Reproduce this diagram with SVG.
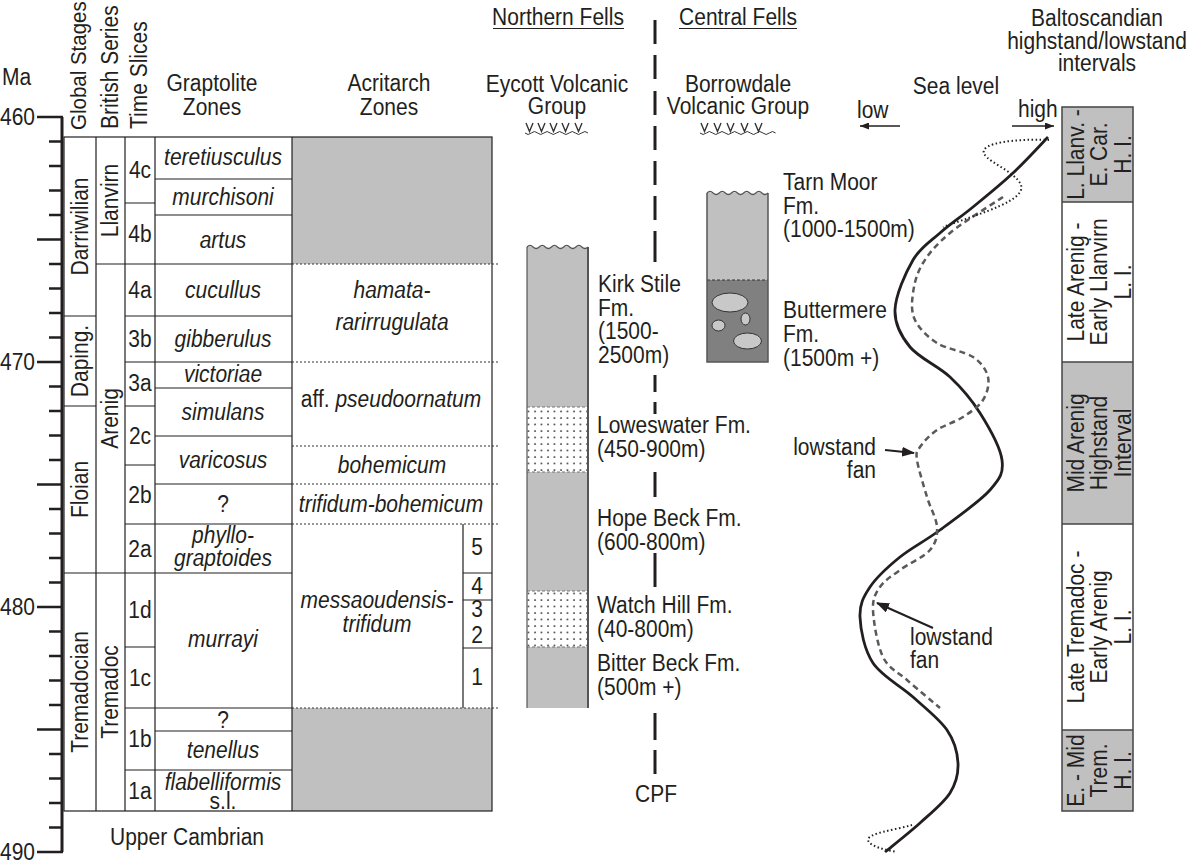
<svg xmlns="http://www.w3.org/2000/svg" width="1187" height="863" viewBox="0 0 1187 863">
<defs>
<style>
.t{font-family:"Liberation Sans",Arial,Helvetica,sans-serif;font-size:21px;fill:#231f20}
.i{font-style:italic}
.m{text-anchor:middle}
.e{text-anchor:end}
.ln{stroke:#231f20;stroke-width:1.2;fill:none}
.dt{stroke:#333;stroke-width:1;stroke-dasharray:2 2;fill:none}
.gr{fill:#c0c0c0}
.cb{stroke:#555;stroke-width:1.5;fill:none}
.sb{stroke:#777;stroke-width:1;stroke-dasharray:3 2;fill:none}
.vv{stroke:#333;stroke-width:1.4;fill:none}
.wv{stroke:#333;stroke-width:1;fill:none}
</style>
<pattern id="dots" width="6.5" height="6.5" patternUnits="userSpaceOnUse"><rect width="6.5" height="6.5" fill="#fff"/><circle cx="2" cy="2" r="0.9" fill="#222"/></pattern>
<marker id="as" viewBox="0 0 9 7" refX="9" refY="3.5" markerWidth="9" markerHeight="7" markerUnits="userSpaceOnUse" orient="auto"><path d="M0,0 L9,3.5 L0,7 z" fill="#231f20"/></marker>
<marker id="ab" viewBox="0 0 13 10" refX="12" refY="5" markerWidth="13" markerHeight="10" markerUnits="userSpaceOnUse" orient="auto"><path d="M0,0 L13,5 L0,10 z" fill="#231f20"/></marker>
</defs>
<rect width="1187" height="863" fill="#fff"/>

<g id="axis">
<path d="M62,117 V852" stroke="#231f20" stroke-width="3" fill="none"/>
<path d="M37,117 H63 M49,141.5 H62 M49,166 H62 M49,190.5 H62 M49,215 H62 M37,239.5 H62 M49,264 H62 M49,288.5 H62 M49,313 H62 M49,337.5 H62 M37,362 H62 M49,386.5 H62 M49,411 H62 M49,435.5 H62 M49,460 H62 M37,484.5 H62 M49,509 H62 M49,533.5 H62 M49,558 H62 M49,582.5 H62 M37,607 H62 M49,631.5 H62 M49,656 H62 M49,680.5 H62 M49,705 H62 M37,729.5 H62 M49,754 H62 M49,778.5 H62 M49,803 H62 M49,827.5 H62 M37,852 H63" stroke="#231f20" stroke-width="2.5" fill="none"/>
<text class="t" transform="matrix(1,0,0,1.12,2,85)">Ma</text>
<text class="t e" transform="matrix(1,0,0,1.12,35,124.5)">460</text>
<text class="t e" transform="matrix(1,0,0,1.12,35,369.5)">470</text>
<text class="t e" transform="matrix(1,0,0,1.12,35,614.5)">480</text>
<text class="t e" transform="matrix(1,0,0,1.12,35,859.5)">490</text>
</g>

<g id="headers">
<text class="t" style="font-size:20.5px" transform="matrix(0,-1,1.12,0,86,130)">Global Stages</text>
<text class="t" transform="matrix(0,-1,1.12,0,118,129)">British Series</text>
<text class="t" transform="matrix(0,-1,1.12,0,147,129)">Time Slices</text>
<text class="t m" transform="matrix(1,0,0,1.12,212,91)">Graptolite</text>
<text class="t m" transform="matrix(1,0,0,1.12,212,115)">Zones</text>
<text class="t m" transform="matrix(1,0,0,1.12,389,91)">Acritarch</text>
<text class="t m" transform="matrix(1,0,0,1.12,389,115)">Zones</text>
</g>

<g id="table">
<rect class="gr" x="292" y="137" width="200" height="127"/>
<rect class="gr" x="292" y="708" width="200" height="103"/>
<path class="dt" d="M292,264 H500 M292,362 H500 M292,446 H500 M292,484 H500 M292,524 H500 M292,708 H500"/>
<rect class="ln" x="64" y="137" width="428" height="674"/>
<path class="ln" d="M96,137 V811 M125,137 V811 M155,137 V811 M292,137 V811 M463,524 V708 M463,573 H492 M463,600 H492 M463,648 H492"/>
<path class="ln" d="M64,316 H96 M64,406 H96 M64,573 H292 M96,264 H292 M125,203 H155 M125,316 H292 M125,362 H292 M125,406 H155 M125,465 H155 M125,524 H292 M125,647 H155 M125,708 H292 M125,770 H292 M155,179 H292 M155,215 H292 M155,388 H292 M155,436 H292 M155,484 H292 M155,731 H292"/>
<text class="t m" transform="matrix(0,-1,1.12,0,79.5,226.5)" y="7.5">Darriwilian</text>
<text class="t m" transform="matrix(0,-1,1.12,0,79.5,361)" y="7.5">Daping.</text>
<text class="t m" transform="matrix(0,-1,1.12,0,79.5,489.5)" y="7.5">Floian</text>
<text class="t m" transform="matrix(0,-1,1.12,0,79.5,692)" y="7.5">Tremadocian</text>
<text class="t m" transform="matrix(0,-1,1.12,0,110,200.5)" y="7.5">Llanvirn</text>
<text class="t m" transform="matrix(0,-1,1.12,0,110,418.5)" y="7.5">Arenig</text>
<text class="t m" transform="matrix(0,-1,1.12,0,110,692)" y="7.5">Tremadoc</text>
<text class="t m" transform="matrix(1,0,0,1.12,140,178)">4c</text>
<text class="t m" transform="matrix(1,0,0,1.12,140,242)">4b</text>
<text class="t m" transform="matrix(1,0,0,1.12,140,298)">4a</text>
<text class="t m" transform="matrix(1,0,0,1.12,140,347)">3b</text>
<text class="t m" transform="matrix(1,0,0,1.12,140,391)">3a</text>
<text class="t m" transform="matrix(1,0,0,1.12,140,444)">2c</text>
<text class="t m" transform="matrix(1,0,0,1.12,140,503)">2b</text>
<text class="t m" transform="matrix(1,0,0,1.12,140,557)">2a</text>
<text class="t m" transform="matrix(1,0,0,1.12,140,618)">1d</text>
<text class="t m" transform="matrix(1,0,0,1.12,140,686)">1c</text>
<text class="t m" transform="matrix(1,0,0,1.12,140,747)">1b</text>
<text class="t m" transform="matrix(1,0,0,1.12,140,799)">1a</text>
<text class="t i m" transform="matrix(1,0,0,1.12,223,165)">teretiusculus</text>
<text class="t i m" transform="matrix(1,0,0,1.12,223,204.5)">murchisoni</text>
<text class="t i m" transform="matrix(1,0,0,1.12,223,247.5)">artus</text>
<text class="t i m" transform="matrix(1,0,0,1.12,223,298)">cucullus</text>
<text class="t i m" transform="matrix(1,0,0,1.12,223,347)">gibberulus</text>
<text class="t i m" transform="matrix(1,0,0,1.12,223,381.5)">victoriae</text>
<text class="t i m" transform="matrix(1,0,0,1.12,223,420)">simulans</text>
<text class="t i m" transform="matrix(1,0,0,1.12,223,468)">varicosus</text>
<text class="t m" transform="matrix(1,0,0,1.12,223,512)">?</text>
<text class="t i m" transform="matrix(1,0,0,1.12,223,543)">phyllo-</text>
<text class="t i m" transform="matrix(1,0,0,1.12,223,565.5)">graptoides</text>
<text class="t i m" transform="matrix(1,0,0,1.12,223,647)">murrayi</text>
<text class="t m" transform="matrix(1,0,0,1.12,223,728)">?</text>
<text class="t i m" transform="matrix(1,0,0,1.12,223,758)">tenellus</text>
<text class="t i m" transform="matrix(1,0,0,1.12,223,789.5)">flabelliformis</text>
<text class="t m" transform="matrix(1,0,0,1.12,223,808.5)">s.l.</text>
<text class="t i m" transform="matrix(1,0,0,1.12,392,298)">hamata-</text>
<text class="t i m" transform="matrix(1,0,0,1.12,392,330)">rarirrugulata</text>
<text class="t m" transform="matrix(1,0,0,1.12,391,407)">aff. <tspan class="i">pseudoornatum</tspan></text>
<text class="t i m" transform="matrix(1,0,0,1.12,392,473)">bohemicum</text>
<text class="t i m" transform="matrix(1,0,0,1.12,391,512)">trifidum-bohemicum</text>
<text class="t i m" transform="matrix(1,0,0,1.12,377,608)">messaoudensis-</text>
<text class="t i m" transform="matrix(1,0,0,1.12,377,632)">trifidum</text>
<text class="t m" transform="matrix(1,0,0,1.12,477,555)">5</text>
<text class="t m" transform="matrix(1,0,0,1.12,477,594)">4</text>
<text class="t m" transform="matrix(1,0,0,1.12,477,617)">3</text>
<text class="t m" transform="matrix(1,0,0,1.12,477,643)">2</text>
<text class="t m" transform="matrix(1,0,0,1.12,477,685)">1</text>
<text class="t m" transform="matrix(1,0,0,1.12,187,845)">Upper Cambrian</text>
</g>

<g id="northern-fells">
<text class="t m" transform="matrix(1,0,0,1.12,558,25)">Northern Fells</text>
<path class="ln" d="M493,28.5 H624"/>
<text class="t m" transform="matrix(1,0,0,1.12,557,92)">Eycott Volcanic</text>
<text class="t m" transform="matrix(1,0,0,1.12,557,114)">Group</text>
<path class="vv" d="M526,123 l3.5,8.5 l3.5,-8.5 M538,123 l3.5,8.5 l3.5,-8.5 M550,123 l3.5,8.5 l3.5,-8.5 M562,123 l3.5,8.5 l3.5,-8.5 M575,123 l3.5,8.5 l3.5,-8.5"/>
<path class="wv" d="M525,133 q3.15,3 6.3,0 t6.3,0 t6.3,0 t6.3,0 t6.3,0 t6.3,0 t6.3,0 t6.3,0 t6.3,0 t6.3,0"/>
<rect class="gr" x="527" y="247" width="61" height="461"/>
<rect x="527" y="407" width="61" height="65" fill="url(#dots)"/>
<rect x="527" y="591" width="61" height="56" fill="url(#dots)"/>
<path class="sb" d="M527,407 H588 M527,472 H588 M527,591 H588 M527,647 H588"/>
<path d="M527,247 V708" stroke="#555" stroke-width="1.2"/>
<path d="M588,247 V708" stroke="#555" stroke-width="2"/>
<path d="M527,247 q3.05,-3 6.1,0 t6.1,0 t6.1,0 t6.1,0 t6.1,0 t6.1,0 t6.1,0 t6.1,0 t6.1,0 t6.1,0" stroke="#555" stroke-width="1.2" fill="#fff"/>
<text class="t" transform="matrix(1,0,0,1.12,598,292)">Kirk Stile</text>
<text class="t" transform="matrix(1,0,0,1.12,598,315.5)">Fm.</text>
<text class="t" transform="matrix(1,0,0,1.12,598,339)">(1500-</text>
<text class="t" transform="matrix(1,0,0,1.12,598,362.5)">2500m)</text>
<text class="t" transform="matrix(1,0,0,1.12,597,433)">Loweswater Fm.</text>
<text class="t" transform="matrix(1,0,0,1.12,597,457)">(450-900m)</text>
<text class="t" transform="matrix(1,0,0,1.12,597,526)">Hope Beck Fm.</text>
<text class="t" transform="matrix(1,0,0,1.12,597,550)">(600-800m)</text>
<text class="t" transform="matrix(1,0,0,1.12,597,613)">Watch Hill Fm.</text>
<text class="t" transform="matrix(1,0,0,1.12,597,637)">(40-800m)</text>
<text class="t" transform="matrix(1,0,0,1.12,597,671)">Bitter Beck Fm.</text>
<text class="t" transform="matrix(1,0,0,1.12,597,695)">(500m +)</text>
</g>

<g id="cpf">
<path d="M655,20 V44 M655,55 V79 M655,91 V115 M655,126 V150 M655,161 V185 M655,196 V220 M655,231 V262 M655,375 V392 M655,402 V414 M655,472 V497 M655,553 V587 M655,713 V740 M655,750 V774" stroke="#231f20" stroke-width="3" fill="none"/>
<text class="t m" transform="matrix(1,0,0,1.12,656,802)">CPF</text>
</g>

<g id="central-fells">
<text class="t m" transform="matrix(1,0,0,1.12,738,25)">Central Fells</text>
<path class="ln" d="M679,28.5 H797"/>
<text class="t m" transform="matrix(1,0,0,1.12,738,92)">Borrowdale</text>
<text class="t m" transform="matrix(1,0,0,1.12,738,114)">Volcanic Group</text>
<path class="vv" d="M701,123 l3.5,8.5 l3.5,-8.5 M714,123 l3.5,8.5 l3.5,-8.5 M727,123 l3.5,8.5 l3.5,-8.5 M741,123 l3.5,8.5 l3.5,-8.5 M755,123 l3.5,8.5 l3.5,-8.5"/>
<path class="wv" d="M700,133 q3.15,3 6.3,0 t6.3,0 t6.3,0 t6.3,0 t6.3,0 t6.3,0 t6.3,0 t6.3,0 t6.3,0 t6.3,0 t6.3,0 t6.3,0"/>
<rect class="gr" x="707" y="193" width="61" height="87"/>
<rect x="707" y="280" width="61" height="82" fill="#808080"/>
<path d="M707,280 H768" stroke="#333" stroke-width="1" stroke-dasharray="3 2"/>
<ellipse cx="730" cy="302.5" rx="18" ry="9.5" fill="#c8c8c8" stroke="#333" stroke-width="1"/>
<ellipse cx="718.5" cy="325.5" rx="6.5" ry="5.5" fill="#c8c8c8" stroke="#333" stroke-width="1"/>
<ellipse cx="745.5" cy="319" rx="4.5" ry="6" fill="#c8c8c8" stroke="#333" stroke-width="1"/>
<ellipse cx="747.5" cy="341" rx="14" ry="8" fill="#c8c8c8" stroke="#333" stroke-width="1"/>
<path class="cb" d="M707,193 V362 H768 V193"/>
<path d="M707,193 q3.05,-3 6.1,0 t6.1,0 t6.1,0 t6.1,0 t6.1,0 t6.1,0 t6.1,0 t6.1,0 t6.1,0 t6.1,0" stroke="#555" stroke-width="1.2" fill="#fff"/>
<text class="t" transform="matrix(1,0,0,1.12,783,190)">Tarn Moor</text>
<text class="t" transform="matrix(1,0,0,1.12,783,213.5)">Fm.</text>
<text class="t" transform="matrix(1,0,0,1.12,783,237)">(1000-1500m)</text>
<text class="t" transform="matrix(1,0,0,1.12,783,318)">Buttermere</text>
<text class="t" transform="matrix(1,0,0,1.12,783,342)">Fm.</text>
<text class="t" transform="matrix(1,0,0,1.12,783,366)">(1500m +)</text>
</g>

<g id="sea-level">
<text class="t m" transform="matrix(1,0,0,1.12,956,94)">Sea level</text>
<text class="t" transform="matrix(1,0,0,1.12,857,118)">low</text>
<text class="t" transform="matrix(1,0,0,1.12,1018,117)">high</text>
<path d="M1048,137 C1042.2,143 1025.5,161.3 1013,173 C1000.5,184.7 985.2,197 973,207 C960.8,217 950,224.2 940,233 C930,241.8 920.5,247.2 913,260 C905.5,272.8 895.5,295.5 895,310 C894.5,324.5 900.8,335.8 910,347 C919.2,358.2 938.3,366 950,377 C961.7,388 971.3,399.2 980,413 C988.7,426.8 1000.3,447.2 1002,460 C1003.7,472.8 1000.3,478.3 990,490 C979.7,501.7 955,518.8 940,530 C925,541.2 911.7,547.5 900,557 C888.3,566.5 876.7,577 870,587 C863.3,597 859.5,604.3 860,617 C860.5,629.7 864.2,649.7 873,663 C881.8,676.3 900.7,685.8 913,697 C925.3,708.2 939.5,719 947,730 C954.5,741 957.5,752.5 958,763 C958.5,773.5 956.3,783 950,793 C943.7,803 930.8,813.2 920,823 C909.2,832.8 890.8,847.2 885,852" stroke="#231f20" stroke-width="2.8" fill="none"/>
<path d="M1003,197 C994.2,203 963.3,222 950,233 C936.7,244 929.2,253 923,263 C916.8,273 914.3,283.5 913,293 C911.7,302.5 911,311.7 915,320 C919,328.3 927.3,336.8 937,343 C946.7,349.2 964.5,351.3 973,357 C981.5,362.7 986.3,369.8 988,377 C989.7,384.2 987.2,393.3 983,400 C978.8,406.7 970.7,412 963,417 C955.3,422 944.2,425 937,430 C929.8,435 923.3,442 920,447 C916.7,452 915.8,451.7 917,460 C918.2,468.3 923.7,485.8 927,497 C930.3,508.2 936.5,518.2 937,527 C937.5,535.8 936.2,542.8 930,550 C923.8,557.2 908.3,563.8 900,570 C891.7,576.2 884.5,580.3 880,587 C875.5,593.7 872.5,598.3 873,610 C873.5,621.7 877.3,645.3 883,657 C888.7,668.7 897.5,671.5 907,680 C916.5,688.5 934.5,703.3 940,708" stroke="#5a5a5a" stroke-width="2.5" stroke-dasharray="6 4" fill="none"/>
<path d="M1049,140 C1030,139 990,140 984,150 C980,160 1015,170 1021,185 C1026,200 985,212 943,227" stroke="#231f20" stroke-width="2" stroke-dasharray="1.5 2.5" fill="none"/>
<path d="M912,825 C895,830 868,833 868,840 C869,846 885,850 897,852" stroke="#231f20" stroke-width="2" stroke-dasharray="1.5 2.5" fill="none"/>
<text class="t e" transform="matrix(1,0,0,1.12,876,455)">lowstand</text>
<text class="t e" transform="matrix(1,0,0,1.12,876,478)">fan</text>
<text class="t" transform="matrix(1,0,0,1.12,910,645)">lowstand</text>
<text class="t" transform="matrix(1,0,0,1.12,910,668)">fan</text>
</g>

<g id="baltoscandian">
<text class="t m" transform="matrix(1,0,0,1.12,1097,26)">Baltoscandian</text>
<text class="t m" transform="matrix(1,0,0,1.12,1097,48.5)">highstand/lowstand</text>
<text class="t m" transform="matrix(1,0,0,1.12,1097,71)">intervals</text>
<rect class="gr" x="1062" y="107" width="71" height="95"/>
<rect fill="#fff" x="1062" y="202" width="71" height="160"/>
<rect class="gr" x="1062" y="362" width="71" height="162"/>
<rect fill="#fff" x="1062" y="524" width="71" height="206"/>
<rect class="gr" x="1062" y="730" width="71" height="81"/>
<path d="M1062,107 H1133 V811 H1062 Z M1062,202 H1133 M1062,362 H1133 M1062,524 H1133 M1062,730 H1133" stroke="#444" stroke-width="1.5" fill="none"/>
<g transform="matrix(0,-1,1.12,0,1099,154.5)"><text class="t m" y="-13.5">L. Llanv. -</text><text class="t m" y="7.5">E. Car.</text><text class="t m" y="28.5">H. I.</text></g>
<g transform="matrix(0,-1,1.12,0,1099,282)"><text class="t m" y="-13.5">Late Arenig -</text><text class="t m" y="7.5">Early Llanvirn</text><text class="t m" y="28.5">L. I.</text></g>
<g transform="matrix(0,-1,1.12,0,1099,443)"><text class="t m" y="-13.5">Mid Arenig</text><text class="t m" y="7.5">Highstand</text><text class="t m" y="28.5">Interval</text></g>
<g transform="matrix(0,-1,1.12,0,1099,627)"><text class="t m" y="-13.5">Late Tremadoc -</text><text class="t m" y="7.5">Early Arenig</text><text class="t m" y="28.5">L. I.</text></g>
<g transform="matrix(0,-1,1.12,0,1099,770.5)"><text class="t m" y="-13.5">E. - Mid</text><text class="t m" y="7.5">Trem.</text><text class="t m" y="28.5">H. I.</text></g>
</g>

<g id="connectors">
<path d="M900,126 H860" stroke="#231f20" stroke-width="1.3" fill="none" marker-end="url(#as)"/>
<path d="M1012,126 H1054" stroke="#231f20" stroke-width="1.3" fill="none" marker-end="url(#as)"/>
<path d="M885,450 L914,453" stroke="#231f20" stroke-width="2" fill="none" marker-end="url(#ab)"/>
<path d="M933,628 L877,603" stroke="#231f20" stroke-width="2" fill="none" marker-end="url(#ab)"/>
</g>
</svg>
